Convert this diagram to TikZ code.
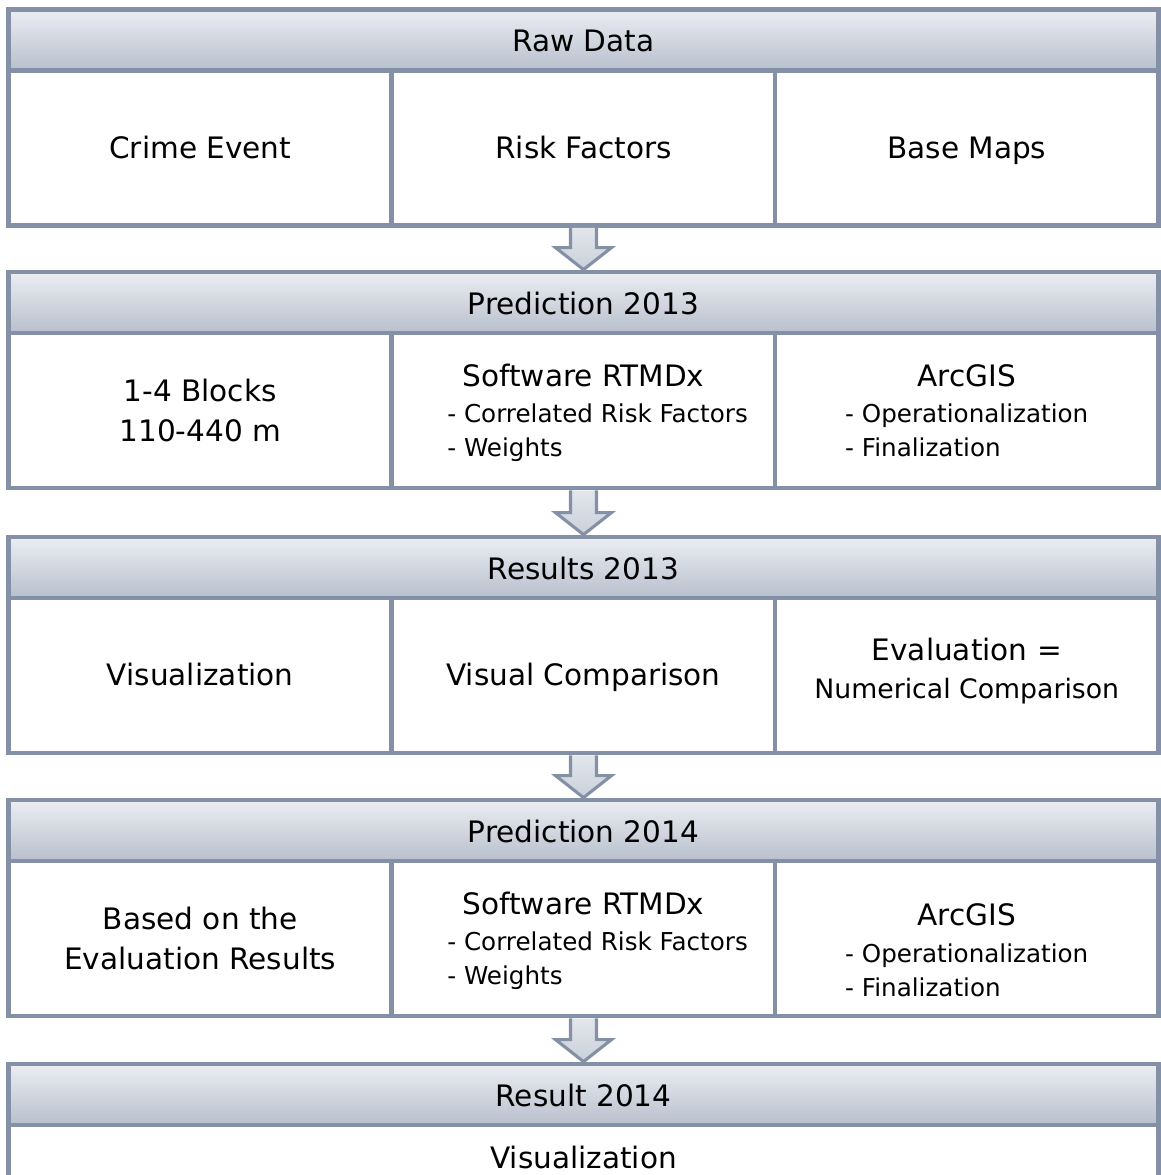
\documentclass[tikz,border=0pt]{standalone}
\usepackage{fontspec}
\setmainfont{DejaVu Sans}
\usetikzlibrary{calc}
\definecolor{frameGray}{RGB}{131,144,165}
\definecolor{headTop}{RGB}{235,237,242}
\definecolor{headBot}{RGB}{184,192,205}
\definecolor{arrTop}{RGB}{226,230,236}
\definecolor{arrBot}{RGB}{202,208,218}
\newcommand{\mainfs}{\fontsize{21}{28.4}\selectfont}
\newcommand{\subfs}{\fontsize{17.5}{24}\selectfont}
\newcommand{\sublist}[1]{{\subfs\begin{tabular}[t]{@{}l@{}}#1\end{tabular}}}

\begin{document}
\begin{tikzpicture}[x=0.025cm, y=-0.025cm,
  head/.style={draw=frameGray, line width=3.4pt, top color=headTop, bottom color=headBot, minimum width=28.75cm, minimum height=1.525cm, inner sep=0pt, font=\mainfs, text height=21pt, text depth=4.4pt},
  cell/.style={draw=frameGray, line width=3.4pt, fill=white, minimum width=9.5875cm, minimum height=3.875cm, inner sep=0pt, align=center, font=\mainfs},
  one/.style={cell, text height=19.5pt, text depth=4.9pt},
  wide/.style={cell, minimum width=28.75cm},
  blk/.style={draw=frameGray, line width=2.2pt, top color=arrTop, bottom color=arrBot}
]
  \path[use as bounding box, clip] (0,0) rectangle (1161,1175);

  % raw data
  \node[head] (hdA) at (583.5,40) {Raw Data};
  \node[one] (crime) at (200.25,148) {Crime Event};
  \node[one] (risk) at (583.5,148) {Risk Factors};
  \node[one] (maps) at (966.75,148) {Base Maps};

  % prediction 2013
  \node[head] (hdB) at (583.5,302.5) {Prediction 2013};
  \node[cell] (blocks) at (200.25,410.5) {1-4 Blocks\\110-440 m};
  \node[cell] (rtmdxA) at (583.5,410.5) {\rule{0pt}{23pt}Software RTMDx\\[-2.5pt]\hspace*{20pt}\sublist{- Correlated Risk Factors\\- Weights}};
  \node[cell] (arcA) at (966.75,410.5) {\rule{0pt}{23pt}ArcGIS\\[-2.5pt]\sublist{- Operationalization\\- Finalization}};

  % results 2013
  \node[head] (hdC) at (583.5,567.5) {Results 2013};
  \node[one] (visA) at (200.25,675.5) {Visualization};
  \node[one] (vcomp) at (583.5,675.5) {Visual Comparison};
  \node[cell] (evalA) at (966.75,675.5) {Evaluation =\\[-1.4pt]{\fontsize{19}{26}\selectfont Numerical Comparison}\rule[-10pt]{0pt}{10pt}};

  % prediction 2014
  \node[head] (hdD) at (583.5,830.5) {Prediction 2014};
  \node[cell] (based) at (200.25,938.5) {Based on the\\Evaluation Results};
  \node[cell] (rtmdxB) at (583.5,938.5) {\rule{0pt}{23pt}Software RTMDx\\[-2.5pt]\hspace*{20pt}\sublist{- Correlated Risk Factors\\- Weights}};
  \node[cell] (arcB) at (966.75,938.5) {\rule{0pt}{39pt}ArcGIS\\[-1.5pt]\sublist{- Operationalization\\- Finalization}};

  % result 2014
  \node[head] (hdE) at (583.5,1094.5) {Result 2014};
  \node[wide, text height=16.5pt, text depth=65pt] (visB) at (583.5,1202.5) {Visualization};

  % block arrows between the stages
  \foreach \a/\b in {risk/hdB, rtmdxA/hdC, vcomp/hdD, rtmdxB/hdE}
    \draw[blk] ($(\a.south)+(-13,0)$) -- ($(\b.north)+(-13,-22)$)
      -- ($(\b.north)+(-28,-22)$) -- (\b.north)
      -- ($(\b.north)+(28,-22)$) -- ($(\b.north)+(13,-22)$)
      -- ($(\a.south)+(13,0)$);
\end{tikzpicture}
\end{document}
